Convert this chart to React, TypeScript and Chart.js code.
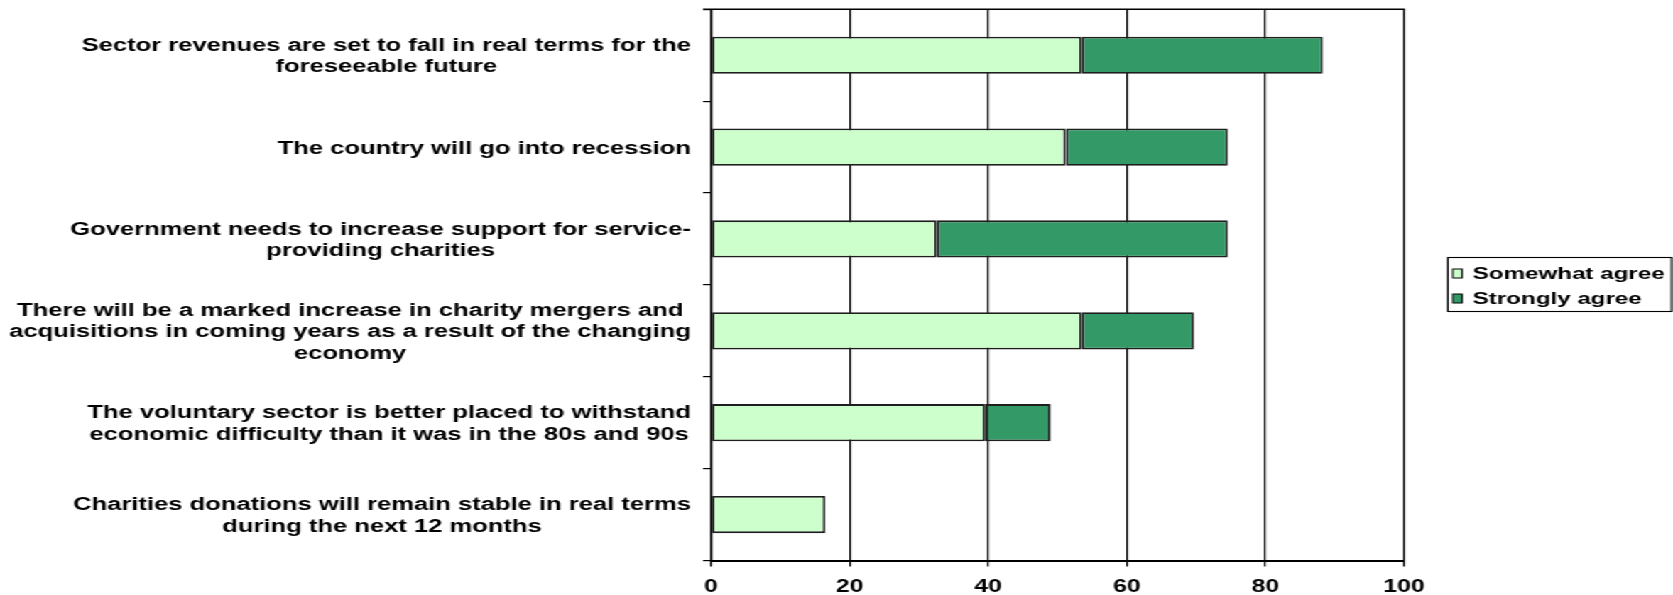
import React, { useEffect, useRef } from "react";
import { Chart, registerables } from "chart.js";

Chart.register(...registerables);

// ---- data ----
const categories: string[][] = [
  ["Sector revenues are set to fall in real terms for the", "foreseeable future"],
  ["The country will go into recession"],
  ["Government needs to increase support for service-", "providing charities"],
  [
    "There will be a marked increase in charity mergers and",
    "acquisitions in coming years as a result of the changing",
    "economy",
  ],
  [
    "The voluntary sector is better placed to withstand",
    "economic difficulty than it was in the 80s and 90s",
  ],
  ["Charities donations will remain stable in real terms", "during the next 12 months"],
];
const somewhatAgree = [53.5, 51.2, 32.6, 53.5, 39.6, 16.5];
const stronglyAgree = [34.8, 23.4, 42.0, 16.2, 9.4, 0];
const seriesNames = ["Somewhat agree", "Strongly agree"];
const seriesColors = ["#CCFFCC", "#339966"];
const xTickValues = [0, 20, 40, 60, 80, 100];

// ---- layout (natural canvas, stretched horizontally by CSS) ----
const NAT_W = 1178;
const NAT_H = 595;
const STRETCH = 1673 / NAT_W;
const FONT = '"Liberation Sans", Arial, sans-serif';

const yLabelPlugin = {
  id: "yLabelPlugin",
  afterDraw(chart: any) {
    const { ctx, chartArea } = chart;
    const yScale = chart.scales.y;
    ctx.save();
    ctx.font = `bold 18px ${FONT}`;
    ctx.fillStyle = "#000";
    ctx.textAlign = "center";
    ctx.textBaseline = "middle";
    const lh = 21.5;
    categories.forEach((lines, i) => {
      const yc = yScale.getPixelForValue(i) + 1.5;
      const w = Math.max(...lines.map((l) => ctx.measureText(l).width));
      const cx = chartArea.left - 14 - w / 2;
      lines.forEach((line, j) => {
        ctx.fillText(line, cx, yc + (j - (lines.length - 1) / 2) * lh);
      });
    });
    ctx.restore();
  },
};

const framePlugin = {
  id: "framePlugin",
  beforeDatasetsDraw(chart: any) {
    const { ctx, chartArea } = chart;
    ctx.save();
    ctx.strokeStyle = "#000";
    ctx.lineWidth = 1.6;
    ctx.beginPath();
    ctx.moveTo(chartArea.left - 5.6, chartArea.top);
    ctx.lineTo(chartArea.right + 0.6, chartArea.top);
    ctx.stroke();
    ctx.restore();
  },
};

const legendPlugin = {
  id: "boxLegend",
  afterDraw(chart: any) {
    const { ctx } = chart;
    const bx = 1019.5;
    const by = 257.5;
    const bw = 157.5;
    const bh = 54;
    ctx.save();
    ctx.fillStyle = "#fff";
    ctx.fillRect(bx, by, bw, bh);
    ctx.strokeStyle = "#000";
    ctx.lineWidth = 1.1;
    ctx.strokeRect(bx, by, bw, bh);
    ctx.font = `bold 17px ${FONT}`;
    ctx.textAlign = "left";
    ctx.textBaseline = "middle";
    const rows = [273.5, 298.5];
    chart.data.datasets.forEach((ds: any, i: number) => {
      const yc = rows[i];
      ctx.fillStyle = ds.backgroundColor;
      ctx.fillRect(1023, yc - 4.5, 6.4, 9);
      ctx.lineWidth = 1;
      ctx.strokeStyle = "#000";
      ctx.strokeRect(1023, yc - 4.5, 6.4, 9);
      ctx.fillStyle = "#000";
      ctx.fillText(ds.label, 1037, yc + 0.5);
    });
    ctx.restore();
  },
};

export default function App() {
  const canvasRef = useRef<HTMLCanvasElement | null>(null);

  useEffect(() => {
    if (!canvasRef.current) return;
    const chart = new Chart(canvasRef.current, {
      type: "bar",
      data: {
        labels: categories.map((c) => c.join(" ")),
        datasets: [
          {
            label: seriesNames[0],
            data: somewhatAgree,
            backgroundColor: seriesColors[0],
            borderColor: "#1e1e1e",
            borderWidth: 1.8,
            borderSkipped: false,
            barPercentage: 0.405,
            categoryPercentage: 1,
          },
          {
            label: seriesNames[1],
            data: stronglyAgree,
            backgroundColor: seriesColors[1],
            borderColor: "#1e1e1e",
            borderWidth: 1.8,
            borderSkipped: false,
            barPercentage: 0.405,
            categoryPercentage: 1,
          },
        ],
      },
      options: {
        indexAxis: "y",
        animation: false,
        responsive: false,
        maintainAspectRatio: false,
        devicePixelRatio: 1,
        layout: { padding: { left: 0, right: 189.4, top: 9.3, bottom: 0 } },
        plugins: {
          legend: { display: false },
          tooltip: { enabled: false },
        },
        scales: {
          x: {
            type: "linear",
            stacked: true,
            min: 0,
            max: 100,
            afterBuildTicks: (scale: any) => {
              scale.ticks = xTickValues.map((v) => ({ value: v }));
            },
            afterFit: (scale: any) => {
              scale.height = 34.5;
            },
            grid: {
              color: "#000",
              lineWidth: 1.2,
              drawTicks: true,
              tickLength: 6,
              tickColor: "#000",
            },
            border: { display: true, color: "#000", width: 2 },
            ticks: {
              color: "#000",
              font: { family: FONT, size: 17.5, weight: "bold" },
              padding: 10.5,
              maxRotation: 0,
            },
          },
          y: {
            type: "category",
            stacked: true,
            grid: {
              display: true,
              drawOnChartArea: false,
              drawTicks: true,
              tickLength: 5.6,
              color: "#000",
              lineWidth: 1.2,
              offset: true,
            },
            border: { display: true, color: "#000", width: 1.4 },
            ticks: { display: false },
            afterFit: (scale: any) => {
              scale.width = 500.6;
            },
          },
        },
      },
      plugins: [framePlugin, yLabelPlugin, legendPlugin],
    } as any);
    return () => chart.destroy();
  }, []);

  return (
    <div
      style={{
        position: "fixed",
        left: 0,
        top: 0,
        width: NAT_W,
        height: NAT_H,
        transform: `scaleX(${STRETCH})`,
        transformOrigin: "0 0",
        background: "#fff",
      }}
    >
      <canvas ref={canvasRef} width={NAT_W} height={NAT_H} />
    </div>
  );
}
